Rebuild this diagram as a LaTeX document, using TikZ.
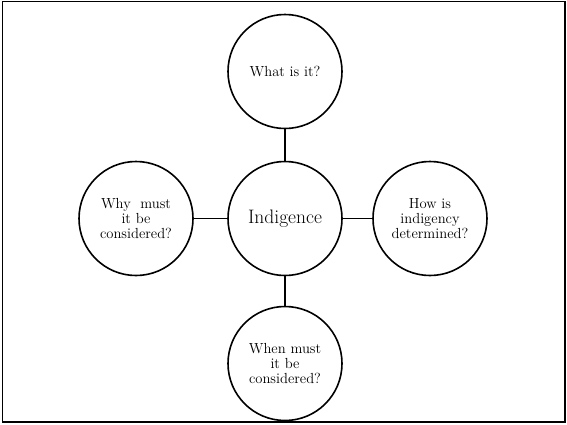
\documentclass[tikz,border=0pt]{standalone}
\begin{document}
\begin{tikzpicture}[x=1pt,y=-1pt,
  bubble/.style={circle,draw=black,line width=1.6pt,minimum size=114pt,inner sep=0pt,align=center,
    font=\fontsize{14.6}{15}\selectfont},
  link/.style={line width=1.6pt}]
\useasboundingbox (0,0) rectangle (567,424);
\draw[line width=1.5pt] (2.5,1.5) rectangle (565,422);
\node[bubble,font=\fontsize{19.5}{21}\selectfont] (c) at (285,218.5) {Indigence};
\node[bubble] (t) at (285,71.5) {What is it?};
\node[bubble] (l) at (136,218.5) {Why\ \ must\\it be\\considered?};
\node[bubble] (r) at (430,218.5) {How is\\indigency\\determined?};
\node[bubble] (b) at (285,363.5) {When must\\it be\\considered?};
\draw[link] (c) -- (t);
\draw[link] (c) -- (l);
\draw[link] (c) -- (r);
\draw[link] (c) -- (b);
\end{tikzpicture}
\end{document}
